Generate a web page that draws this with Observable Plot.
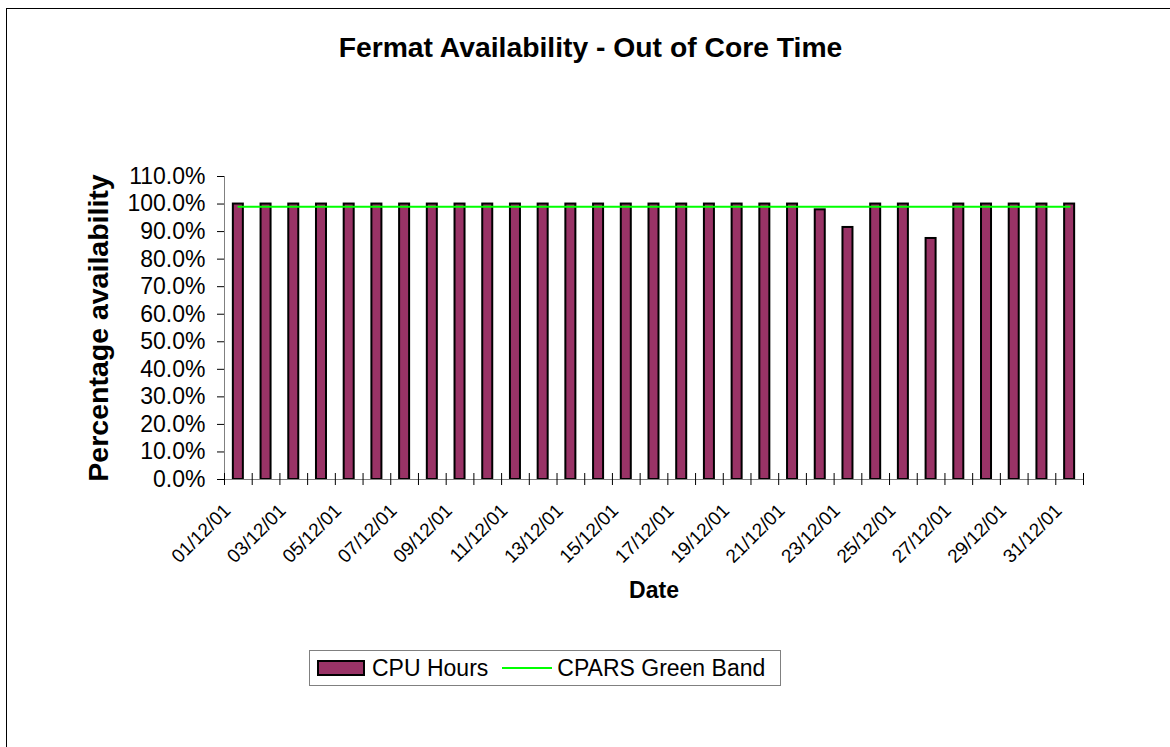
<!DOCTYPE html>
<html>
<head>
<meta charset="utf-8">
<script src="https://cdn.jsdelivr.net/npm/d3@7"></script>
<script src="https://cdn.jsdelivr.net/npm/@observablehq/plot@0.6"></script>
<style>
  html, body { margin: 0; padding: 0; background: #fff; }
  body { width: 1170px; height: 747px; overflow: hidden; font-family: "Liberation Sans", Arial, sans-serif; }
  #page { position: relative; width: 1170px; height: 747px; overflow: hidden; }
  #border { position: absolute; left: 6px; top: 8px; width: 1300px; height: 900px; border: 1px solid #000; }
  #title { position: absolute; left: 0; top: 33px; width: 1181px; text-align: center; font-weight: bold; font-size: 28.3px; line-height: 1; color: #000; }
  #chart { position: absolute; left: 0; top: 0; }
  #legend { position: absolute; left: 309px; top: 650px; width: 472px; height: 36px; box-sizing: border-box; border: 1px solid #808080; display: flex; align-items: center; font-size: 23px; color: #000; background: #fff; }
  .sw { box-sizing: border-box; width: 48px; height: 16px; background: #993366; border: 2px solid #000; margin-left: 7px; }
  .ln { width: 50px; height: 2px; background: #00ff00; }
</style>
</head>
<body>
<div id="page">
  <div id="border"></div>
  <div id="title">Fermat Availability - Out of Core Time</div>
  <div id="chart"></div>
  <div id="legend">
    <div class="sw"></div>
    <span style="margin-left:7px">CPU Hours</span>
    <div class="ln" style="margin-left:14px"></div>
    <span style="margin-left:5px">CPARS Green Band</span>
  </div>
</div>
<script>
const dates = ["01/12/01","02/12/01","03/12/01","04/12/01","05/12/01","06/12/01","07/12/01","08/12/01","09/12/01","10/12/01","11/12/01","12/12/01","13/12/01","14/12/01","15/12/01","16/12/01","17/12/01","18/12/01","19/12/01","20/12/01","21/12/01","22/12/01","23/12/01","24/12/01","25/12/01","26/12/01","27/12/01","28/12/01","29/12/01","30/12/01","31/12/01"];
const cpuHours = [1.0,1.0,1.0,1.0,1.0,1.0,1.0,1.0,1.0,1.0,1.0,1.0,1.0,1.0,1.0,1.0,1.0,1.0,1.0,1.0,1.0,0.979,0.915,1.0,1.0,0.875,1.0,1.0,1.0,1.0,1.0];
const greenBand = [0.99,0.99,0.99,0.99,0.99,0.99,0.99,0.99,0.99,0.99,0.99,0.99,0.99,0.99,0.99,0.99,0.99,0.99,0.99,0.99,0.99,0.99,0.99,0.99,0.99,0.99,0.99,0.99,0.99,0.99,0.99];
const yTicks = [0,0.1,0.2,0.3,0.4,0.5,0.6,0.7,0.8,0.9,1.0,1.1];
const labelledDates = ["01/12/01","03/12/01","05/12/01","07/12/01","09/12/01","11/12/01","13/12/01","15/12/01","17/12/01","19/12/01","21/12/01","23/12/01","25/12/01","27/12/01","29/12/01","31/12/01"];

const bars = dates.map((d, i) => ({date: d, slot: i + 1, value: cpuHours[i]}));
const band = dates.map((d, i) => ({date: d, slot: i + 1, value: greenBand[i]}));
const boundaries = dates.map((d, i) => i + 1).concat([dates.length + 1]);
const labelPos = labelledDates.map(d => dates.indexOf(d) + 1.5);

const chart = Plot.plot({
  width: 1170,
  height: 747,
  marginLeft: 224,
  marginRight: 87,
  marginTop: 176,
  marginBottom: 268,
  style: {fontFamily: "'Liberation Sans', Arial, sans-serif", color: "#000", background: "transparent", overflow: "visible"},
  x: {type: "linear", domain: [1, dates.length + 1]},
  y: {domain: [0, 1.1]},
  marks: [
    Plot.rectY(bars, {x1: "slot", x2: d => d.slot + 1, y1: 0, y2: "value", fill: "#993366", stroke: "#000", strokeWidth: 2, insetLeft: 8.85, insetRight: 8.85}),
    Plot.lineY(band, {x: d => d.slot + 0.5, y: "value", stroke: "#00ff00", strokeWidth: 2}),
    Plot.ruleX([1], {y1: 0, y2: 1.1, stroke: "#808080", strokeWidth: 1}),
    Plot.ruleY([0], {stroke: "#808080", strokeWidth: 1}),
    Plot.ruleX(boundaries, {y1: 0, y2: 0, insetTop: -6, insetBottom: -6, stroke: "#000", strokeWidth: 1}),
    Plot.axisY({ticks: yTicks, tickFormat: d3.format(".1%"), tickSize: 7, tickPadding: 12, fontSize: 23, label: null, stroke: "#000"}),
    Plot.axisX({ticks: labelPos, tickFormat: v => dates[Math.floor(v) - 1], tickSize: 0, tickPadding: 28, tickRotate: -45, dx: -11, fontSize: 19, label: null}),
    Plot.text(["Percentage availability"], {frameAnchor: "left", textAnchor: "middle", lineAnchor: "middle", dx: -126, rotate: -90, fontSize: 28.5, fontWeight: "bold", fill: "#000"}),
    Plot.text(["Date"], {frameAnchor: "bottom", textAnchor: "middle", lineAnchor: "middle", dy: 111, fontSize: 23, fontWeight: "bold", fill: "#000"})
  ]
});
document.getElementById("chart").appendChild(chart);
</script>
</body>
</html>
